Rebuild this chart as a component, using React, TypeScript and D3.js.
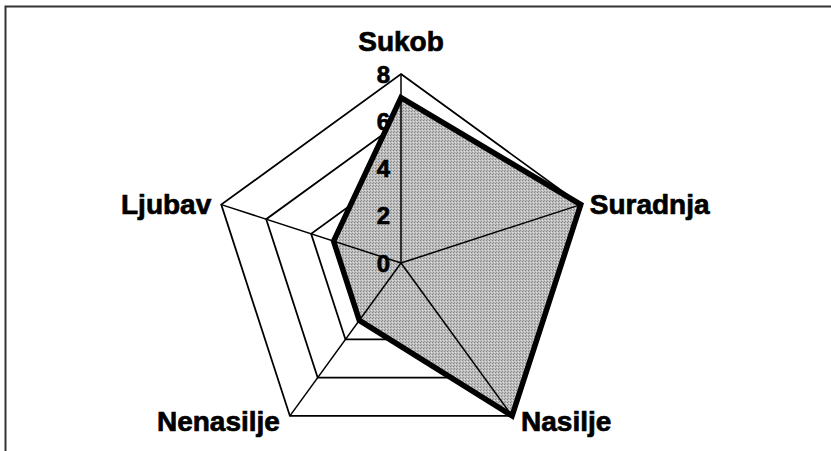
import React from "react"
import * as d3 from "d3"

const axes = ["Sukob", "Suradnja", "Nasilje", "Nenasilje", "Ljubav"]
const values = [7, 8, 8, 3, 3]
const ticks = [0, 2, 4, 6, 8]

const W = 831
const H = 451

export default function App() {
    const cx = 401
    const cy = 263
    const R = 189
    const r = d3.scaleLinear().domain([0, 8]).range([0, R])
    const angle = d3
        .scaleLinear()
        .domain([0, axes.length])
        .range([0, 2 * Math.PI])

    const pt = (i: number, v: number): [number, number] => [
        cx + r(v) * Math.sin(angle(i)),
        cy - r(v) * Math.cos(angle(i))
    ]

    const closed = d3.line().curve(d3.curveLinearClosed)

    const rings = ticks
        .filter(t => t > 0)
        .map(t => closed(axes.map((_, i) => pt(i, t))) as string)
    const area = closed(values.map((v, i) => pt(i, v))) as string

    const labelFont = {
        fontFamily: "'Liberation Sans', Arial, sans-serif",
        fontWeight: 700,
        stroke: "#000",
        strokeWidth: 0.7
    }

    return (
        <svg width={W} height={H} style={{ position: "absolute", left: 0, top: 0 }}>
            <defs>
                <pattern id="dots" width="3" height="3" patternUnits="userSpaceOnUse">
                    <rect width="3" height="3" fill="#bdbdbd" />
                    <rect x="0" y="0" width="1" height="1" fill="#858585" />
                    <rect x="2" y="1" width="1" height="1" fill="#e2e2e2" />
                    <rect x="1" y="2" width="1" height="1" fill="#939393" />
                </pattern>
            </defs>
            <rect x={0} y={0} width={W} height={H} fill="#fff" />
            {/* chart frame */}
            <path d={`M5.5,${H} V6.5 H${W}`} fill="none" stroke="#333" strokeWidth={2} />

            {rings.map((d, i) => (
                <path key={i} d={d} fill="none" stroke="#000" strokeWidth={1.8} />
            ))}

            <path d={area} fill="url(#dots)" stroke="none" />

            {axes.map((a, i) => {
                const [x, y] = pt(i, 8)
                return <line key={a} x1={cx} y1={cy} x2={x} y2={y} stroke="#000" strokeWidth={1.5} />
            })}

            <path d={area} fill="none" stroke="#000" strokeWidth={5.5} strokeLinejoin="miter" />

            {ticks.map(t => (
                <text
                    key={t}
                    x={cx - 11}
                    y={cy - r(t)}
                    dy="0.36em"
                    textAnchor="end"
                    fontSize={24}
                    {...labelFont}
                >
                    {t}
                </text>
            ))}

            {axes.map((a, i) => {
                const [x, y] = pt(i, 8)
                const s = Math.sin(angle(i))
                let anchor = "middle"
                let lx = x
                let ly = y
                let dy = "0.36em"
                if (Math.abs(s) < 0.1) {
                    ly = y - 23
                    dy = "0"
                } else {
                    anchor = s > 0 ? "start" : "end"
                    lx = x + (s > 0 ? 9 : -10)
                    ly = y > cy + 50 ? y + 5 : y - 1
                }
                return (
                    <text key={a} x={lx} y={ly} dy={dy} textAnchor={anchor} fontSize={28} {...labelFont}>
                        {a}
                    </text>
                )
            })}
        </svg>
    )
}
